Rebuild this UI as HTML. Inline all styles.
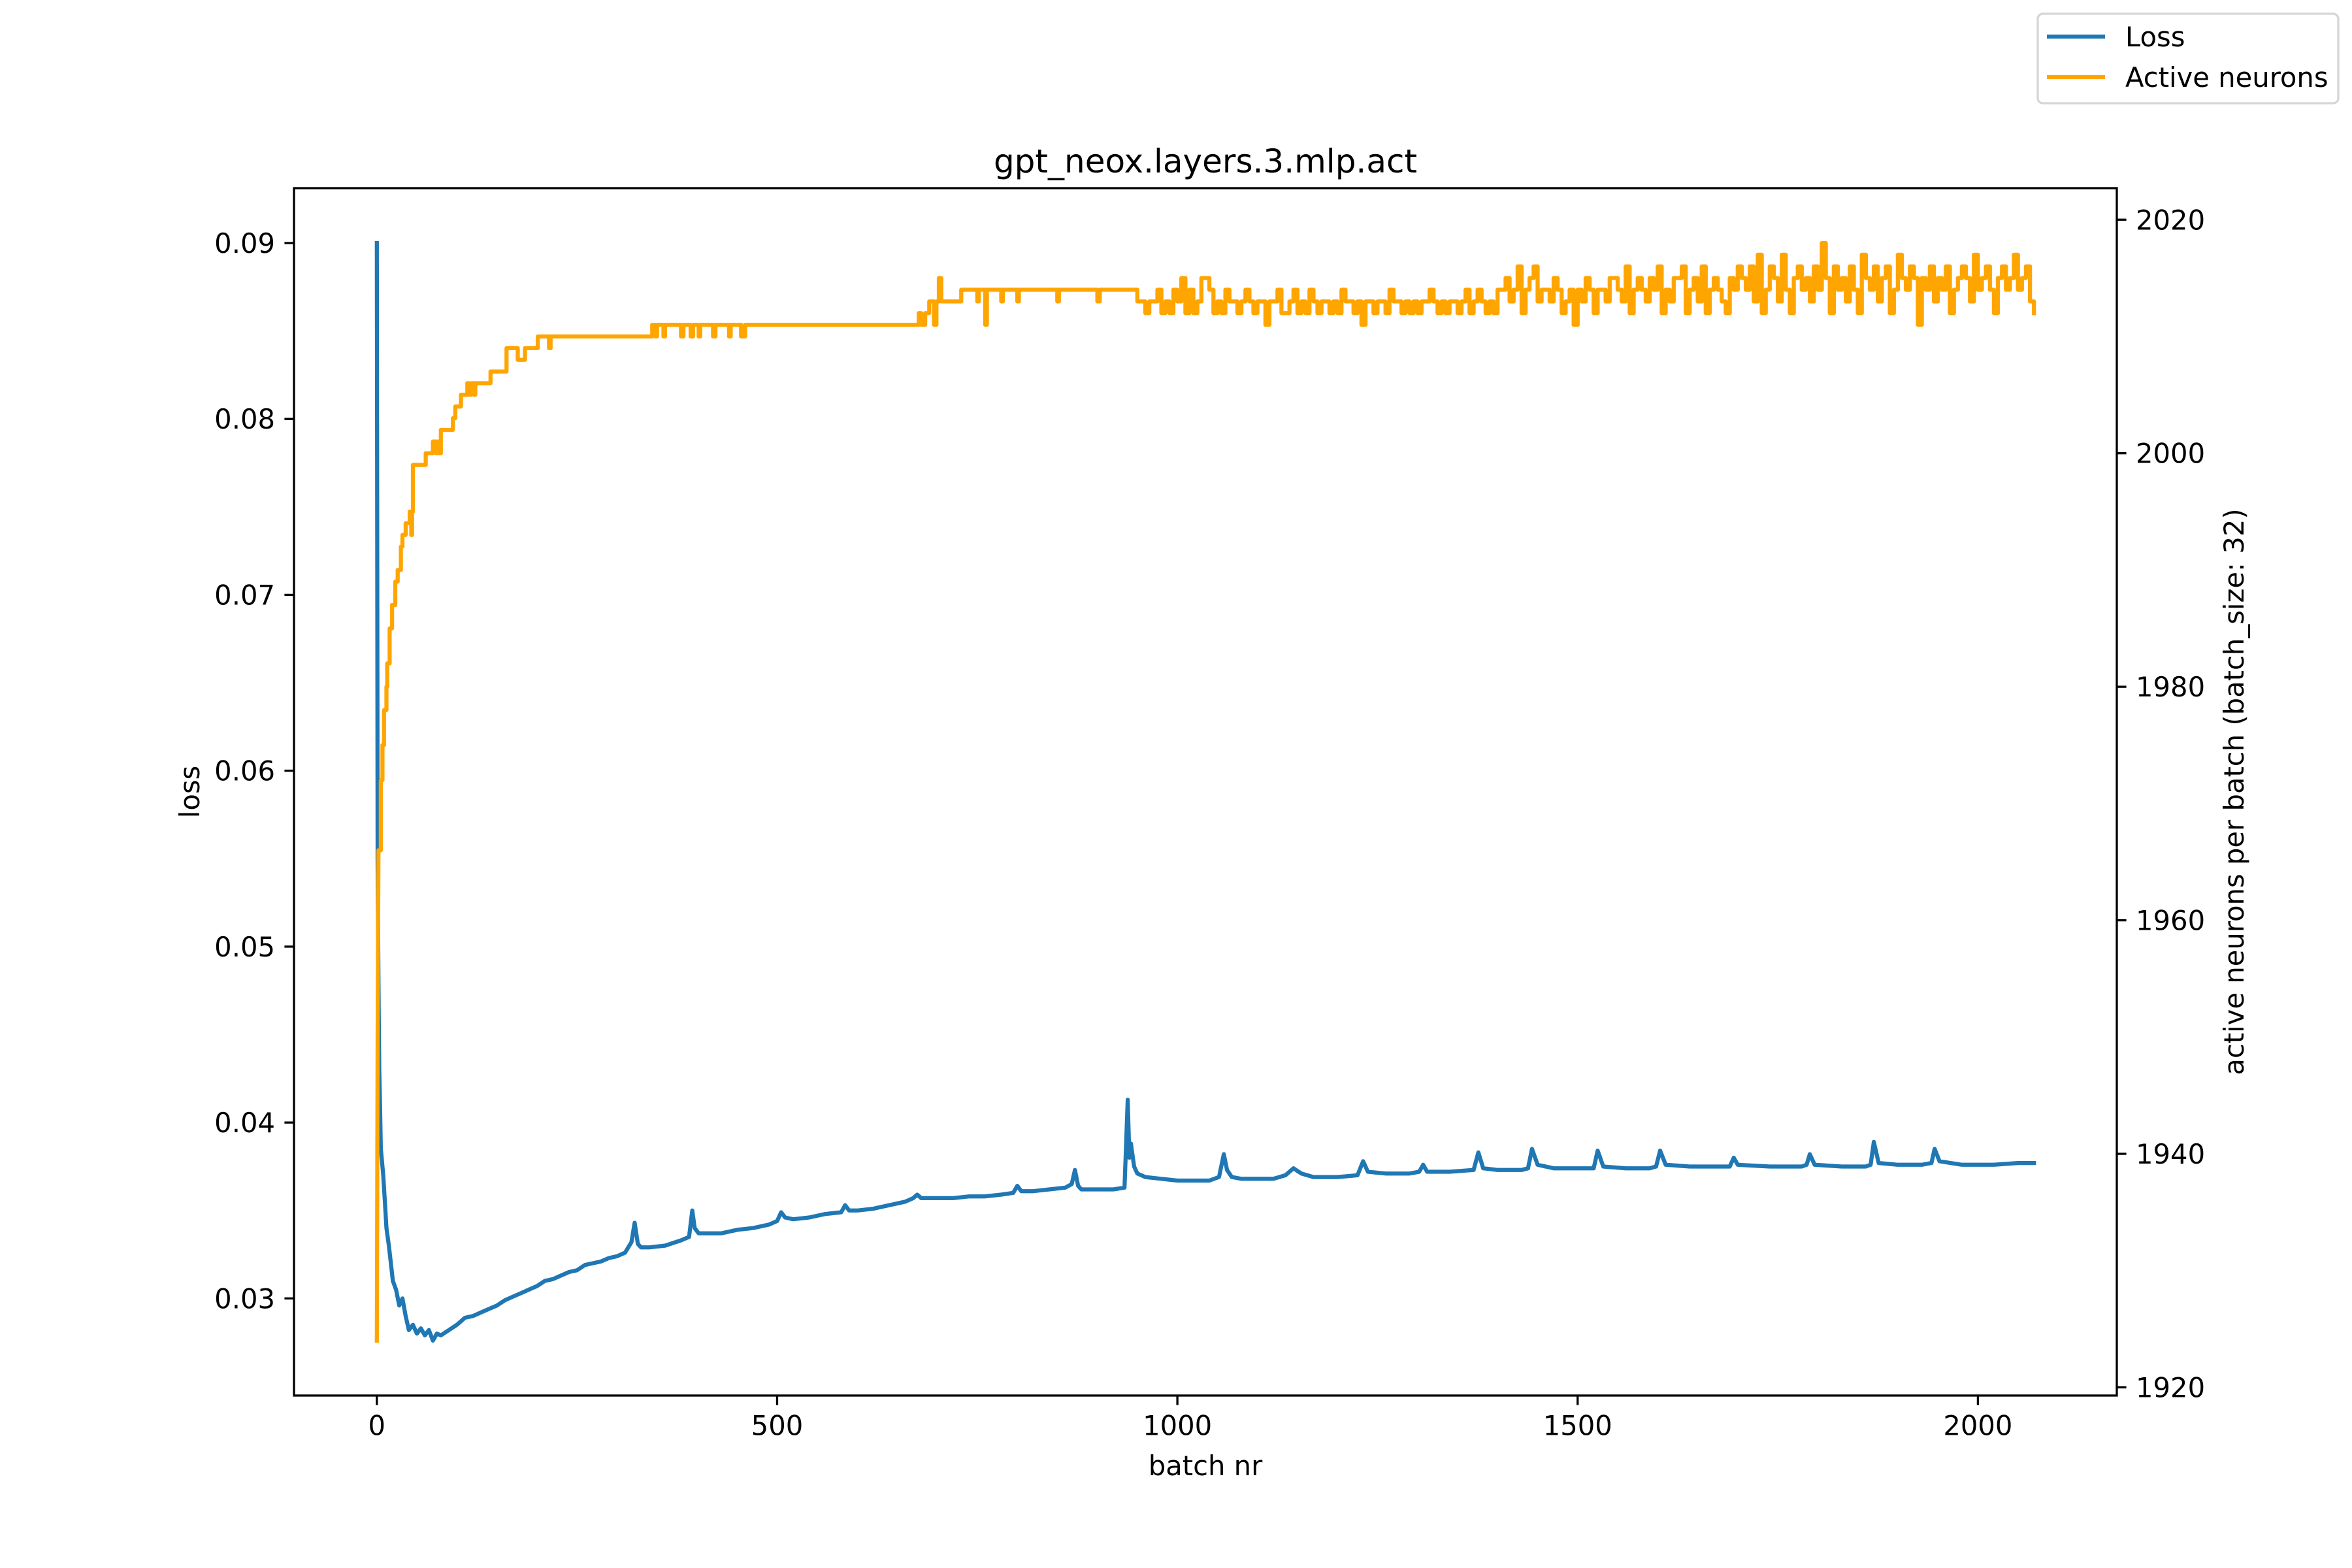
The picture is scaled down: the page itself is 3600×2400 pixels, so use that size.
<!DOCTYPE html>
<html><head><meta charset="utf-8"><style>
html,body{margin:0;padding:0;background:#fff}
svg{display:block}
text{font-family:"DejaVu Sans","Liberation Sans",sans-serif;fill:#000}
</style></head><body>
<svg id="chart" xmlns="http://www.w3.org/2000/svg" width="3600" height="2400" viewBox="0 0 3600 2400">
<rect x="0" y="0" width="3600" height="2400" fill="#fff"/>
<g id="plot"></g>
</svg>
<script>
const xTicks = [0, 500, 1000, 1500, 2000];
const lossTicks = [0.03, 0.04, 0.05, 0.06, 0.07, 0.08, 0.09];
const neuronTicks = [1920, 1940, 1960, 1980, 2000, 2020];

const lossBatch = [0,1,2,3,4,5,6,8,10,12,15,18,20,24,28,32,36,40,45,50,
55,60,65,70,75,80,90,100,110,120,130,140,150,160,170,180,190,200,210,220,
230,240,250,260,270,280,290,300,310,318,322,326,330,340,360,380,390,394,397,402,
410,430,450,470,490,500,505,510,520,540,560,580,585,590,600,620,640,660,670,675,
680,700,720,740,760,780,795,800,805,820,840,860,868,872,876,880,900,920,934,938,
940,942,946,950,960,980,1000,1020,1040,1052,1058,1062,1068,1080,1100,1120,1135,1145,1155,1170,
1200,1225,1232,1238,1260,1290,1302,1307,1312,1340,1370,1376,1382,1400,1430,1438,1443,1450,1470,1500,
1520,1525,1532,1560,1590,1598,1603,1610,1640,1670,1690,1695,1700,1740,1780,1786,1790,1796,1830,1860,
1866,1870,1876,1900,1930,1942,1946,1952,1980,2020,2050,2070];
const lossValue = [0.090,0.055,0.048,0.043,0.041,0.0385,0.038,0.037,0.0355,0.034,0.033,0.0318,0.031,0.0305,0.0296,0.0300,0.0290,0.0282,0.0285,0.0280,
0.0283,0.0279,0.0282,0.0276,0.0280,0.0279,0.0282,0.0285,0.0289,0.0290,0.0292,0.0294,0.0296,0.0299,0.0301,0.0303,0.0305,0.0307,0.0310,0.0311,
0.0313,0.0315,0.0316,0.0319,0.0320,0.0321,0.0323,0.0324,0.0326,0.0332,0.0343,0.0331,0.0329,0.0329,0.0330,0.0333,0.0335,0.0350,0.0340,0.0337,
0.0337,0.0337,0.0339,0.0340,0.0342,0.0344,0.0349,0.0346,0.0345,0.0346,0.0348,0.0349,0.0353,0.0350,0.0350,0.0351,0.0353,0.0355,0.0357,0.0359,
0.0357,0.0357,0.0357,0.0358,0.0358,0.0359,0.0360,0.0364,0.0361,0.0361,0.0362,0.0363,0.0365,0.0373,0.0364,0.0362,0.0362,0.0362,0.0363,0.0413,
0.0380,0.0388,0.0375,0.0371,0.0369,0.0368,0.0367,0.0367,0.0367,0.0369,0.0382,0.0373,0.0369,0.0368,0.0368,0.0368,0.0370,0.0374,0.0371,0.0369,
0.0369,0.0370,0.0378,0.0372,0.0371,0.0371,0.0372,0.0376,0.0372,0.0372,0.0373,0.0383,0.0374,0.0373,0.0373,0.0374,0.0385,0.0376,0.0374,0.0374,
0.0374,0.0384,0.0375,0.0374,0.0374,0.0375,0.0384,0.0376,0.0375,0.0375,0.0375,0.0380,0.0376,0.0375,0.0375,0.0376,0.0382,0.0376,0.0375,0.0375,
0.0376,0.0389,0.0377,0.0376,0.0376,0.0377,0.0385,0.0378,0.0376,0.0376,0.0377,0.0377];

const neuronBatch = [0,1,2,5,7,9,12,13,16,19,23,26,30,32,36,41,43,44,45,61,
70,74,76,78,80,95,98,105,113,115,118,122,123,142,162,176,185,201,215,217,
344,348,350,358,360,380,383,392,395,402,404,420,423,440,442,455,460,677,680,685,
690,696,699,702,705,730,750,752,760,762,780,782,800,802,850,852,900,903,950];
const neuronValue = [1924,1950,1966,1972,1975,1978,1980,1982,1985,1987,1989,1990,1992,1993,1994,1995,1993,1995,1999,2000,
2001,2000,2001,2000,2002,2003,2004,2005,2006,2005,2006,2005,2006,2007,2009,2008,2009,2010,2009,2010,
2011,2010,2011,2010,2011,2010,2011,2010,2011,2010,2011,2010,2011,2010,2011,2010,2011,2012,2011,2012,
2013,2011,2013,2015,2013,2014,2013,2014,2011,2014,2013,2014,2013,2014,2013,2014,2013,2014,2013];
// later noisy section: one reading every 5 batches starting at batch 955 (offset above 2000)
const neuronNoiseStart = 955;
const neuronNoiseStep = 5;
const neuronNoise = [13,12,13,13,14,12,13,12,14,13,15,12,14,12,13,15,15,14,12,13,12,14,13,13,12,13,14,13,12,13,13,11,13,13,14,12,12,13,14,12,13,12,14,13,12,13,
13,12,13,12,14,13,13,12,13,11,13,13,12,13,13,12,14,13,13,12,13,12,13,12,13,13,14,13,12,13,12,13,13,12,13,14,12,13,14,13,12,13,12,14,
14,15,13,14,16,12,14,15,16,13,14,14,13,15,14,12,13,14,11,14,13,15,14,12,14,14,13,15,15,14,13,16,12,14,15,14,13,15,14,16,12,14,13,15,15,16,12,14,15,13,16,12,14,15,14,13,12,15,14,16,
15,14,16,13,17,12,14,16,15,13,17,14,12,15,16,14,15,13,16,14,18,15,12,16,14,15,13,16,14,12,17,15,14,16,13,15,16,12,14,17,15,14,16,15,11,15,14,16,13,15,14,16,12,14,15,16,15,13,17,14,15,16,14,12,15,16,14,15,17,14,15,16,13,12];

const NS = 'http://www.w3.org/2000/svg';
const plot = document.getElementById('plot');
const L = 450, R = 3240, T = 288, B = 2136;

// combine neuron series
const nb = neuronBatch.slice(), nv = neuronValue.slice();
for (let i = 0; i < neuronNoise.length; i++) { nb.push(neuronNoiseStart + i * neuronNoiseStep); nv.push(2000 + neuronNoise[i]); }

const allX = lossBatch.concat(nb);
const xmin0 = Math.min(...allX), xmax0 = Math.max(...allX);
const xpad = (xmax0 - xmin0) * 0.05;
const xmin = xmin0 - xpad, xmax = xmax0 + xpad;
const lmin0 = Math.min(...lossValue), lmax0 = Math.max(...lossValue);
const lpad = (lmax0 - lmin0) * 0.05;
const lmin = lmin0 - lpad, lmax = lmax0 + lpad;
const nmin0 = Math.min(...nv), nmax0 = Math.max(...nv);
const npad = (nmax0 - nmin0) * 0.05;
const nmin = nmin0 - npad, nmax = nmax0 + npad;

function sx(v) { return L + (v - xmin) / (xmax - xmin) * (R - L); }
function syL(v) { return B - (v - lmin) / (lmax - lmin) * (B - T); }
function syR(v) { return B - (v - nmin) / (nmax - nmin) * (B - T); }

function mk(tag, attrs, parent) {
  const e = document.createElementNS(NS, tag);
  for (const k in attrs) e.setAttribute(k, attrs[k]);
  (parent || plot).appendChild(e);
  return e;
}

// loss line
let d = '';
for (let i = 0; i < lossBatch.length; i++) d += (i ? 'L' : 'M') + sx(lossBatch[i]).toFixed(1) + ' ' + syL(lossValue[i]).toFixed(1);
const lossLine = mk('path', {d: d, fill: 'none', stroke: '#1f77b4', 'stroke-width': 6.25, 'stroke-linejoin': 'round', 'stroke-linecap': 'square'});



// neuron line (stepped)
d = '';
for (let i = 0; i < nb.length; i++) {
  const x = sx(nb[i]).toFixed(1), y = syR(nv[i]).toFixed(1);
  if (i === 0) d += 'M' + x + ' ' + y;
  else if (i < 3) d += 'L' + x + ' ' + y;
  else d += 'L' + x + ' ' + syR(nv[i - 1]).toFixed(1) + 'L' + x + ' ' + y;
}
const nLine = mk('path', {d: d, fill: 'none', stroke: '#ffa500', 'stroke-width': 6.25, 'stroke-linejoin': 'round', 'stroke-linecap': 'square'});



// frame
const frame = mk('rect', {x: L, y: T, width: R - L, height: B - T, fill: 'none', stroke: '#000', 'stroke-width': 3.3});



const FS = 41.7;
xTicks.forEach(v => {
  const x = sx(v);
  const t = mk('line', {x1: x, y1: B, x2: x, y2: B + 14.6, stroke: '#000', 'stroke-width': 3.3});
  
  
  const lb = mk('text', {x: x, y: B + 29 + FS * 0.76, 'font-size': FS, 'text-anchor': 'middle'});
  lb.textContent = String(v);
  
  
});
lossTicks.forEach(v => {
  const y = syL(v);
  const t = mk('line', {x1: L - 14.6, y1: y, x2: L, y2: y, stroke: '#000', 'stroke-width': 3.3});
  
  
  const lb = mk('text', {x: L - 29, y: y + FS * 0.36, 'font-size': FS, 'text-anchor': 'end'});
  lb.textContent = v.toFixed(2);
  
  
});
neuronTicks.forEach(v => {
  const y = syR(v);
  const t = mk('line', {x1: R, y1: y, x2: R + 14.6, y2: y, stroke: '#000', 'stroke-width': 3.3});
  
  
  const lb = mk('text', {x: R + 29, y: y + FS * 0.36, 'font-size': FS, 'text-anchor': 'start'});
  lb.textContent = String(v);
  
  
});

const title = mk('text', {x: (L + R) / 2, y: 264, 'font-size': 50, 'text-anchor': 'middle'});
title.textContent = 'gpt_neox.layers.3.mlp.act';



const xl = mk('text', {x: (L + R) / 2, y: 2258, 'font-size': FS, 'text-anchor': 'middle'});
xl.textContent = 'batch nr';



const yl = mk('text', {x: 0, y: 0, 'font-size': FS, 'text-anchor': 'middle', transform: 'translate(305 1212) rotate(-90)'});
yl.textContent = 'loss';



const yr = mk('text', {x: 0, y: 0, 'font-size': FS, 'text-anchor': 'middle', transform: 'translate(3434 1212) rotate(-90)'});
yr.textContent = 'active neurons per batch (batch_size: 32)';



// legend
const lg = mk('g', {});


mk('rect', {x: 3119, y: 21, width: 460, height: 137, rx: 8, fill: '#fff', stroke: '#d6d6d6', 'stroke-width': 3.3}, lg);
const e1 = mk('line', {x1: 3133, y1: 56, x2: 3222, y2: 56, stroke: '#1f77b4', 'stroke-width': 6.25}, lg);


const t1 = mk('text', {x: 3253, y: 71, 'font-size': FS}, lg);
t1.textContent = 'Loss';


const e2 = mk('line', {x1: 3133, y1: 118, x2: 3222, y2: 118, stroke: '#ffa500', 'stroke-width': 6.25}, lg);


const t2 = mk('text', {x: 3253, y: 133, 'font-size': FS}, lg);
t2.textContent = 'Active neurons';


</script>
</body></html>
